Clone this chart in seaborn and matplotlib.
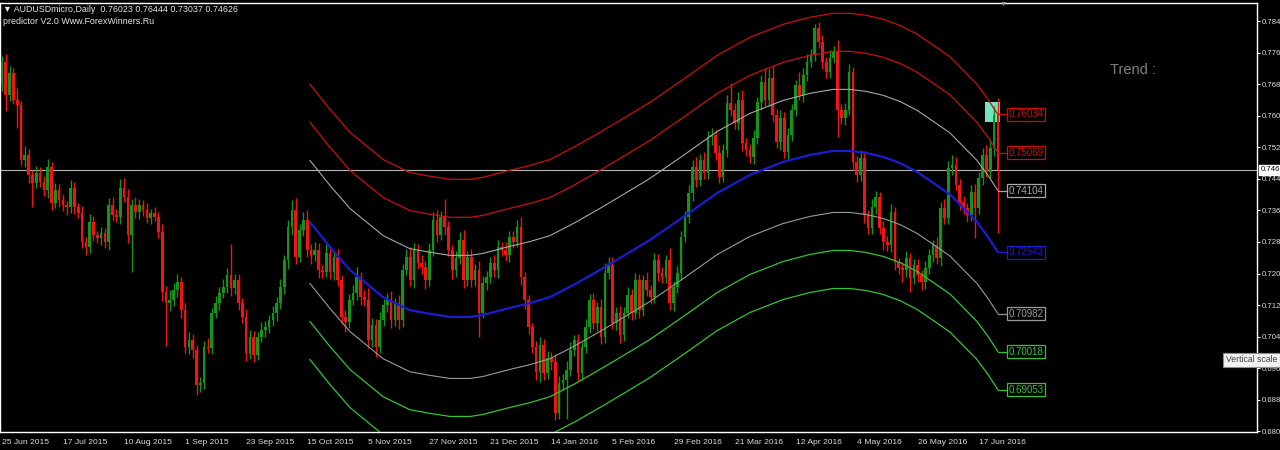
import numpy as np
import pandas as pd
import matplotlib
matplotlib.use("Agg")
import matplotlib.pyplot as plt
import matplotlib.transforms as mtransforms
from matplotlib.patches import Rectangle
import seaborn as sns

# header texts of the MT4 window
symbol_line = "\u25bc AUDUSDmicro,Daily  0.76023 0.76444 0.73037 0.74626"
indicator_line = "predictor V2.0 Www.ForexWinners.Ru"

# daily candles, 25 Jun 2015 .. 24 Jun 2016 (one value per bar)
first_open = 0.7683
closes = [
    0.7737, 0.7653, 0.7709, 0.7640, 0.7628, 0.7488, 0.7501, 0.7450, 0.7430, 0.7455, 0.7432, 0.7412, 0.7470, 0.7379, 0.7412, 0.7386,
    0.7373, 0.7368, 0.7417, 0.7368, 0.7353, 0.7280, 0.7267, 0.7331, 0.7298, 0.7290, 0.7303, 0.7280, 0.7373, 0.7348, 0.7343, 0.7417,
    0.7394, 0.7298, 0.7374, 0.7356, 0.7374, 0.7361, 0.7341, 0.7353, 0.7343, 0.7305, 0.7153, 0.7125, 0.7133, 0.7158, 0.7178, 0.7107,
    0.7014, 0.7031, 0.7006, 0.6917, 0.6922, 0.7014, 0.7011, 0.7100, 0.7125, 0.7151, 0.7166, 0.7196, 0.7163, 0.7184, 0.7125, 0.7090,
    0.6999, 0.7039, 0.6994, 0.7039, 0.7057, 0.7064, 0.7082, 0.7100, 0.7125, 0.7166, 0.7234, 0.7318, 0.7361, 0.7242, 0.7310, 0.7336,
    0.7260, 0.7247, 0.7260, 0.7209, 0.7204, 0.7252, 0.7204, 0.7242, 0.7184, 0.7090, 0.7077, 0.7133, 0.7151, 0.7191, 0.7140, 0.7133,
    0.7031, 0.7069, 0.7014, 0.7082, 0.7120, 0.7133, 0.7082, 0.7125, 0.7082, 0.7209, 0.7242, 0.7184, 0.7260, 0.7227, 0.7217, 0.7184,
    0.7260, 0.7336, 0.7298, 0.7343, 0.7318, 0.7260, 0.7209, 0.7239, 0.7285, 0.7184, 0.7242, 0.7184, 0.7209, 0.7100, 0.7176, 0.7191,
    0.7227, 0.7209, 0.7267, 0.7260, 0.7247, 0.7293, 0.7280, 0.7318, 0.7191, 0.7133, 0.7064, 0.7014, 0.6950, 0.7019, 0.6948, 0.6986,
    0.6976, 0.6846, 0.6922, 0.6930, 0.6955, 0.7006, 0.7031, 0.6948, 0.7014, 0.7064, 0.7133, 0.7074, 0.7115, 0.7039, 0.7201, 0.7222,
    0.7074, 0.7100, 0.7044, 0.7100, 0.7146, 0.7100, 0.7184, 0.7107, 0.7184, 0.7158, 0.7140, 0.7234, 0.7201, 0.7191, 0.7234, 0.7125,
    0.7166, 0.7201, 0.7293, 0.7343, 0.7404, 0.7470, 0.7437, 0.7488, 0.7455, 0.7546, 0.7551, 0.7506, 0.7445, 0.7513, 0.7633, 0.7615,
    0.7582, 0.7640, 0.7531, 0.7513, 0.7496, 0.7544, 0.7635, 0.7686, 0.7640, 0.7696, 0.7602, 0.7534, 0.7595, 0.7508, 0.7551, 0.7615,
    0.7678, 0.7653, 0.7704, 0.7737, 0.7754, 0.7823, 0.7787, 0.7737, 0.7711, 0.7747, 0.7762, 0.7615, 0.7595, 0.7615, 0.7711, 0.7483,
    0.7450, 0.7493, 0.7348, 0.7315, 0.7368, 0.7394, 0.7315, 0.7280, 0.7272, 0.7356, 0.7229, 0.7214, 0.7209, 0.7239, 0.7189, 0.7222,
    0.7196, 0.7178, 0.7214, 0.7247, 0.7272, 0.7239, 0.7366, 0.7341, 0.7468, 0.7475, 0.7425, 0.7381, 0.7366, 0.7348, 0.7407, 0.7366,
    0.7442, 0.7501, 0.7458, 0.7518, 0.76023, 0.74626,
]
# shadows above / below the candle body, in pips
wick_up = [
    15, 20, 18, 12, 30, 10, 22, 15, 12, 18, 14, 16, 20, 12, 18, 14,
    16, 12, 20, 14, 10, 18, 12, 20, 15, 10, 14, 12, 18, 20, 15, 22,
    25, 20, 15, 20, 14, 12, 18, 10, 16, 12, 20, 15, 25, 18, 20, 12,
    18, 20, 15, 12, 16, 14, 22, 12, 18, 15, 20, 18, 80, 14, 16, 12,
    20, 18, 15, 12, 20, 16, 12, 18, 15, 20, 14, 18, 25, 30, 15, 20,
    25, 15, 20, 18, 12, 22, 16, 14, 20, 12, 18, 15, 20, 25, 14, 18,
    30, 18, 16, 20, 15, 18, 22, 14, 20, 16, 20, 25, 18, 15, 20, 14,
    18, 20, 24, 15, 45, 16, 12, 18, 20, 25, 16, 20, 14, 22, 18, 15,
    16, 20, 18, 14, 20, 16, 15, 18, 25, 14, 12, 10, 15, 20, 14, 18,
    16, 20, 18, 15, 22, 20, 14, 16, 12, 20, 15, 18, 14, 20, 25, 20,
    20, 16, 18, 14, 20, 15, 18, 16, 12, 20, 14, 18, 15, 16, 12, 30,
    14, 18, 16, 15, 20, 18, 25, 15, 20, 16, 18, 12, 20, 15, 20, 50,
    18, 20, 25, 14, 16, 20, 12, 18, 35, 22, 30, 16, 20, 14, 18, 16,
    14, 33, 18, 20, 16, 10, 15, 18, 12, 20, 16, 30, 14, 18, 20, 12,
    15, 20, 18, 14, 22, 16, 12, 18, 15, 20, 14, 10, 16, 18, 12, 14,
    16, 12, 18, 15, 14, 20, 16, 22, 18, 25, 20, 14, 16, 12, 18, 20,
    16, 18, 25, 20, 22, 42,
]
wick_dn = [
    20, 40, 15, 10, 60, 12, 18, 20, 60, 14, 12, 16, 20, 18, 12, 16,
    14, 20, 15, 18, 12, 15, 20, 14, 16, 12, 18, 14, 20, 15, 12, 18,
    12, 20, 95, 15, 18, 14, 12, 16, 10, 15, 22, 110, 20, 15, 18, 20,
    16, 18, 20, 25, 18, 15, 12, 16, 14, 18, 12, 15, 20, 14, 18, 15,
    20, 16, 18, 14, 12, 18, 15, 14, 20, 16, 18, 22, 20, 18, 14, 16,
    18, 22, 15, 20, 16, 12, 18, 20, 15, 18, 25, 16, 14, 18, 20, 15,
    20, 18, 25, 16, 14, 18, 20, 15, 22, 18, 14, 16, 20, 15, 18, 22,
    16, 15, 18, 14, 20, 16, 22, 18, 14, 20, 15, 18, 16, 60, 14, 18,
    15, 18, 20, 16, 14, 18, 15, 12, 20, 22, 18, 15, 20, 25, 18, 15,
    20, 18, 15, 18, 100, 16, 14, 20, 18, 15, 16, 14, 20, 18, 16, 14,
    15, 18, 20, 16, 14, 18, 15, 20, 16, 14, 18, 15, 20, 16, 15, 18,
    20, 15, 18, 14, 16, 20, 18, 15, 16, 14, 20, 18, 15, 14, 18, 16,
    15, 18, 20, 14, 16, 18, 15, 20, 14, 16, 18, 15, 20, 14, 18, 16,
    15, 14, 18, 16, 12, 14, 15, 18, 16, 15, 14, 69, 16, 18, 14, 20,
    18, 15, 20, 16, 14, 18, 15, 20, 16, 18, 20, 15, 31, 18, 36, 15,
    18, 20, 16, 15, 18, 14, 20, 16, 15, 18, 14, 20, 16, 18, 15, 76,
    15, 18, 14, 16, 20, 159,
]
last_price = 0.74626

date_ticks = [0, 16, 32, 48, 64, 80, 96, 112, 128, 144, 160, 176, 192, 208, 224, 240, 256]
date_labels = ["25 Jun 2015", "17 Jul 2015", "10 Aug 2015", "1 Sep 2015", "23 Sep 2015",
               "15 Oct 2015", "5 Nov 2015", "27 Nov 2015", "21 Dec 2015", "14 Jan 2016",
               "5 Feb 2016", "29 Feb 2016", "21 Mar 2016", "12 Apr 2016", "4 May 2016",
               "26 May 2016", "17 Jun 2016"]
price_ticks = [0.680, 0.688, 0.696, 0.704, 0.712, 0.720, 0.728, 0.736,
               0.744, 0.752, 0.760, 0.768, 0.776, 0.784]

# predictor centre line (bar index, price)
center_bars = [80.7, 86.0, 91.2, 99.9, 106.9, 112.0, 117.4, 122.7, 126.1, 133.2, 138.4,
               143.6, 150.2, 156.7, 163.3, 169.8, 178.5, 187.4, 196.0, 204.7, 211.8,
               217.8, 222.2, 226.4, 230.9, 235.4, 239.8, 244.5, 248.5, 255.5, 258.4, 261.0]
center_vals = [0.7331, 0.7267, 0.7209, 0.7140, 0.7107, 0.7098, 0.7090, 0.7090, 0.7095, 0.7113, 0.7125,
               0.7140, 0.7173, 0.7209, 0.7247, 0.7285, 0.7343, 0.7404, 0.7450, 0.7483, 0.7501,
               0.7511, 0.7511, 0.7506, 0.7496, 0.7480, 0.7458, 0.7427, 0.7400, 0.7331, 0.7293, 0.72543]
# band values at the last bar (the boxed labels)
band_levels = [0.76034, 0.75069, 0.74104, 0.72543, 0.70982, 0.70018, 0.69053]
band_colors = ["#c81010", "#c81010", "#a8a8a8", "#1c1cd0", "#9a9a9a", "#33c433", "#33c433"]
band_widths = [0.9, 0.9, 0.8, 1.6, 0.8, 0.9, 0.9]

signal_box_bars = [257.6, 261.6]
signal_box_prices = [0.7585, 0.7636]

bull, bear = "#12961a", "#f21414"

sns.set_style("dark", {"axes.facecolor": "black", "figure.facecolor": "black",
                       "axes.edgecolor": "white", "grid.color": "black"})
plt.rcParams['font.family'] = ['Liberation Sans', 'DejaVu Sans']

fig = plt.figure(figsize=(12.8, 4.5), dpi=100, facecolor="black")
# plot frame: x 0..1257 px, y 3..432 px from the top
ax = fig.add_axes([0, 18 / 450, 1257 / 1280, 429 / 450])

# candles
df = pd.DataFrame({"close": closes})
df["open"] = [first_open] + closes[:-1]
df["bar"] = np.arange(len(df))
body_top = df[["open", "close"]].max(axis=1)
body_bot = df[["open", "close"]].min(axis=1)
df["high"] = body_top + np.array(wick_up) * 1e-4
df["low"] = body_bot - np.array(wick_dn) * 1e-4
cols = np.where(df["close"] >= df["open"], bull, bear)

ax.add_patch(Rectangle((signal_box_bars[0], signal_box_prices[0]),
                       signal_box_bars[1] - signal_box_bars[0],
                       signal_box_prices[1] - signal_box_prices[0],
                       fc="#7fffd4", ec="none", alpha=0.9, zorder=2))
ax.vlines(df["bar"], df["low"], df["high"], colors=cols, lw=1.0, zorder=3)
ax.bar(df["bar"], (body_top - body_bot).clip(lower=0.00015), bottom=body_bot,
       width=0.7, color=cols, lw=0, zorder=3)

ax.axhline(last_price, color="#b4b4b4", lw=0.8, zorder=2)

# predictor bands
for level, c, lw in zip(band_levels, band_colors, band_widths):
    vals = np.array(center_vals) + (level - center_vals[-1])
    sns.lineplot(x=center_bars, y=vals, ax=ax, color=c, lw=lw, zorder=4)
    ax.plot([261, 263.6], [level, level], color=c, lw=0.9, zorder=4)
    ax.text(263.8, level, f"{level:.5f}", color=c, fontsize=7, va="center", ha="left", zorder=6,
            bbox=dict(boxstyle="square,pad=0.15", fc="black", ec=c, lw=0.9))

ax.set_xlim(-0.5, 328.9)
ax.set_ylim(0.6798, 0.78862)
ax.set_xlabel("")
ax.set_ylabel("")
ax.grid(False)
ax.yaxis.tick_right()
ax.set_yticks(price_ticks)
ax.set_yticklabels([f"{v:.3f}" for v in price_ticks])
ax.set_xticks(date_ticks)
ax.set_xticklabels(date_labels)
for t in ax.get_xticklabels():
    t.set_ha("left")
ax.tick_params(axis="x", colors="white", labelcolor="#dcdcdc", labelsize=6.1,
               length=3, width=0.8, direction="out", pad=2)
ax.tick_params(axis="y", colors="white", labelcolor="#dcdcdc", labelsize=5.6,
               length=2.5, width=0.8, direction="out", pad=1.2)
for s in ax.spines.values():
    s.set_color("white")
    s.set_linewidth(1)

# current price tag on the axis
tr = mtransforms.blended_transform_factory(ax.transAxes, ax.transData)
ax.text(1.003, last_price, f"{last_price:.3f}", transform=tr, fontsize=5.6, color="black",
        va="center", ha="left", clip_on=False, zorder=7,
        bbox=dict(boxstyle="square,pad=0.2", fc="white", ec="white"))

fig.text(3 / 1280, 1 - 9 / 450, symbol_line, fontsize=6.4, color="#e6e6e6", va="center")
fig.text(3 / 1280, 1 - 21 / 450, indicator_line, fontsize=6.4, color="#e6e6e6", va="center")
fig.text(1110 / 1280, 1 - 70 / 450, "Trend :", fontsize=10.5, color="#808080", va="center")
fig.text(1003 / 1280, 1 - 4 / 450, "\u25bc", fontsize=5, color="#9a9a9a", ha="center", va="center")
fig.text(1226 / 1280, 1 - 360 / 450, "Vertical scale", fontsize=6.2, color="#404040", va="center",
         bbox=dict(boxstyle="square,pad=0.3", fc="#f2f2f2", ec="#8c8c8c", lw=0.8))

fig.savefig("out.png", dpi=100, facecolor="black")
